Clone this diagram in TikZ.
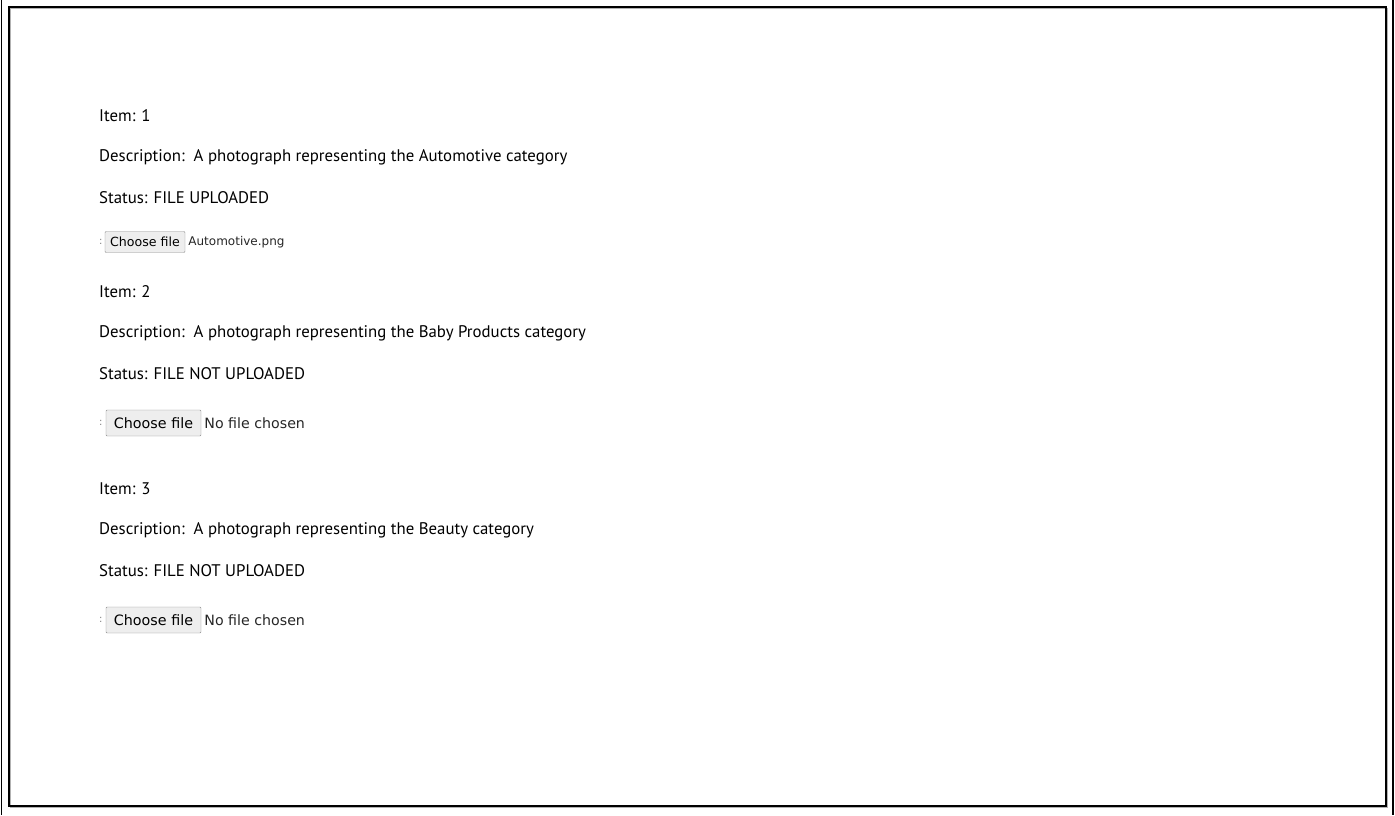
\documentclass[tikz,border=0pt]{standalone}
\usepackage{fontspec}
\setmainfont{PT Sans}
\newfontfamily\btnfont{DejaVu Sans}
\usetikzlibrary{positioning}
\begin{document}
\begin{tikzpicture}[x=1pt, y=-1pt,
	every node/.style={inner sep=0pt, anchor=west, font=\fontsize{16.8}{20}\selectfont},
	smallbtn/.style={draw=gray!90, fill=gray!13, rounded corners=1pt, minimum width=80pt, minimum height=21pt, anchor=center, font=\btnfont\fontsize{12.6}{14}\selectfont},
	bigbtn/.style={smallbtn, minimum width=95pt, minimum height=26pt, font=\btnfont\fontsize{14.3}{16}\selectfont},
	fname/.style={right=3pt of #1, text=black!85},
	dots/.style={text=gray, font=\btnfont\fontsize{10}{11}\selectfont}]
	% \draw[help lines] (0,0) grid (1395,815);
	\useasboundingbox (0,0) rectangle (1395,815);
	\draw[line width=1.5pt] (1.5,0) -- (1.5,815);
	\draw[line width=1.5pt] (1393,0) -- (1393,815);
	\draw[gray!60, line width=1pt] (10,8) rectangle (1387.5,807.5);
	\draw[line width=2pt] (8.5,6.5) rectangle (1385.5,805.5);

	\node (itemA) at (99,116) {Item: 1};
	\node (descA) at (99,157) {Description:\ \ A photograph representing the Automotive category};
	\node (statA) at (99,198) {Status: FILE UPLOADED};
	\node[dots] (colA) at (99,242) {:};
	\node[smallbtn] (btnA) at (145,242) {Choose file};
	\node[fname=btnA, font=\btnfont\fontsize{12}{14}\selectfont] (fileA) {Automotive.png};

	\node (itemB) at (99,292) {Item: 2};
	\node (descB) at (99,333) {Description:\ \ A photograph representing the Baby Products category};
	\node (statB) at (99,374) {Status: FILE NOT UPLOADED};
	\node[dots] (colB) at (99,423) {:};
	\node[bigbtn] (btnB) at (153.5,423) {Choose file};
	\node[fname=btnB, font=\btnfont\fontsize{14.2}{16}\selectfont] (fileB) {No file chosen};

	\node (itemC) at (99,489) {Item: 3};
	\node (descC) at (99,530) {Description:\ \ A photograph representing the Beauty category};
	\node (statC) at (99,571) {Status: FILE NOT UPLOADED};
	\node[dots] (colC) at (99,620) {:};
	\node[bigbtn] (btnC) at (153.5,620) {Choose file};
	\node[fname=btnC, font=\btnfont\fontsize{14.2}{16}\selectfont] (fileC) {No file chosen};
\end{tikzpicture}
\end{document}
